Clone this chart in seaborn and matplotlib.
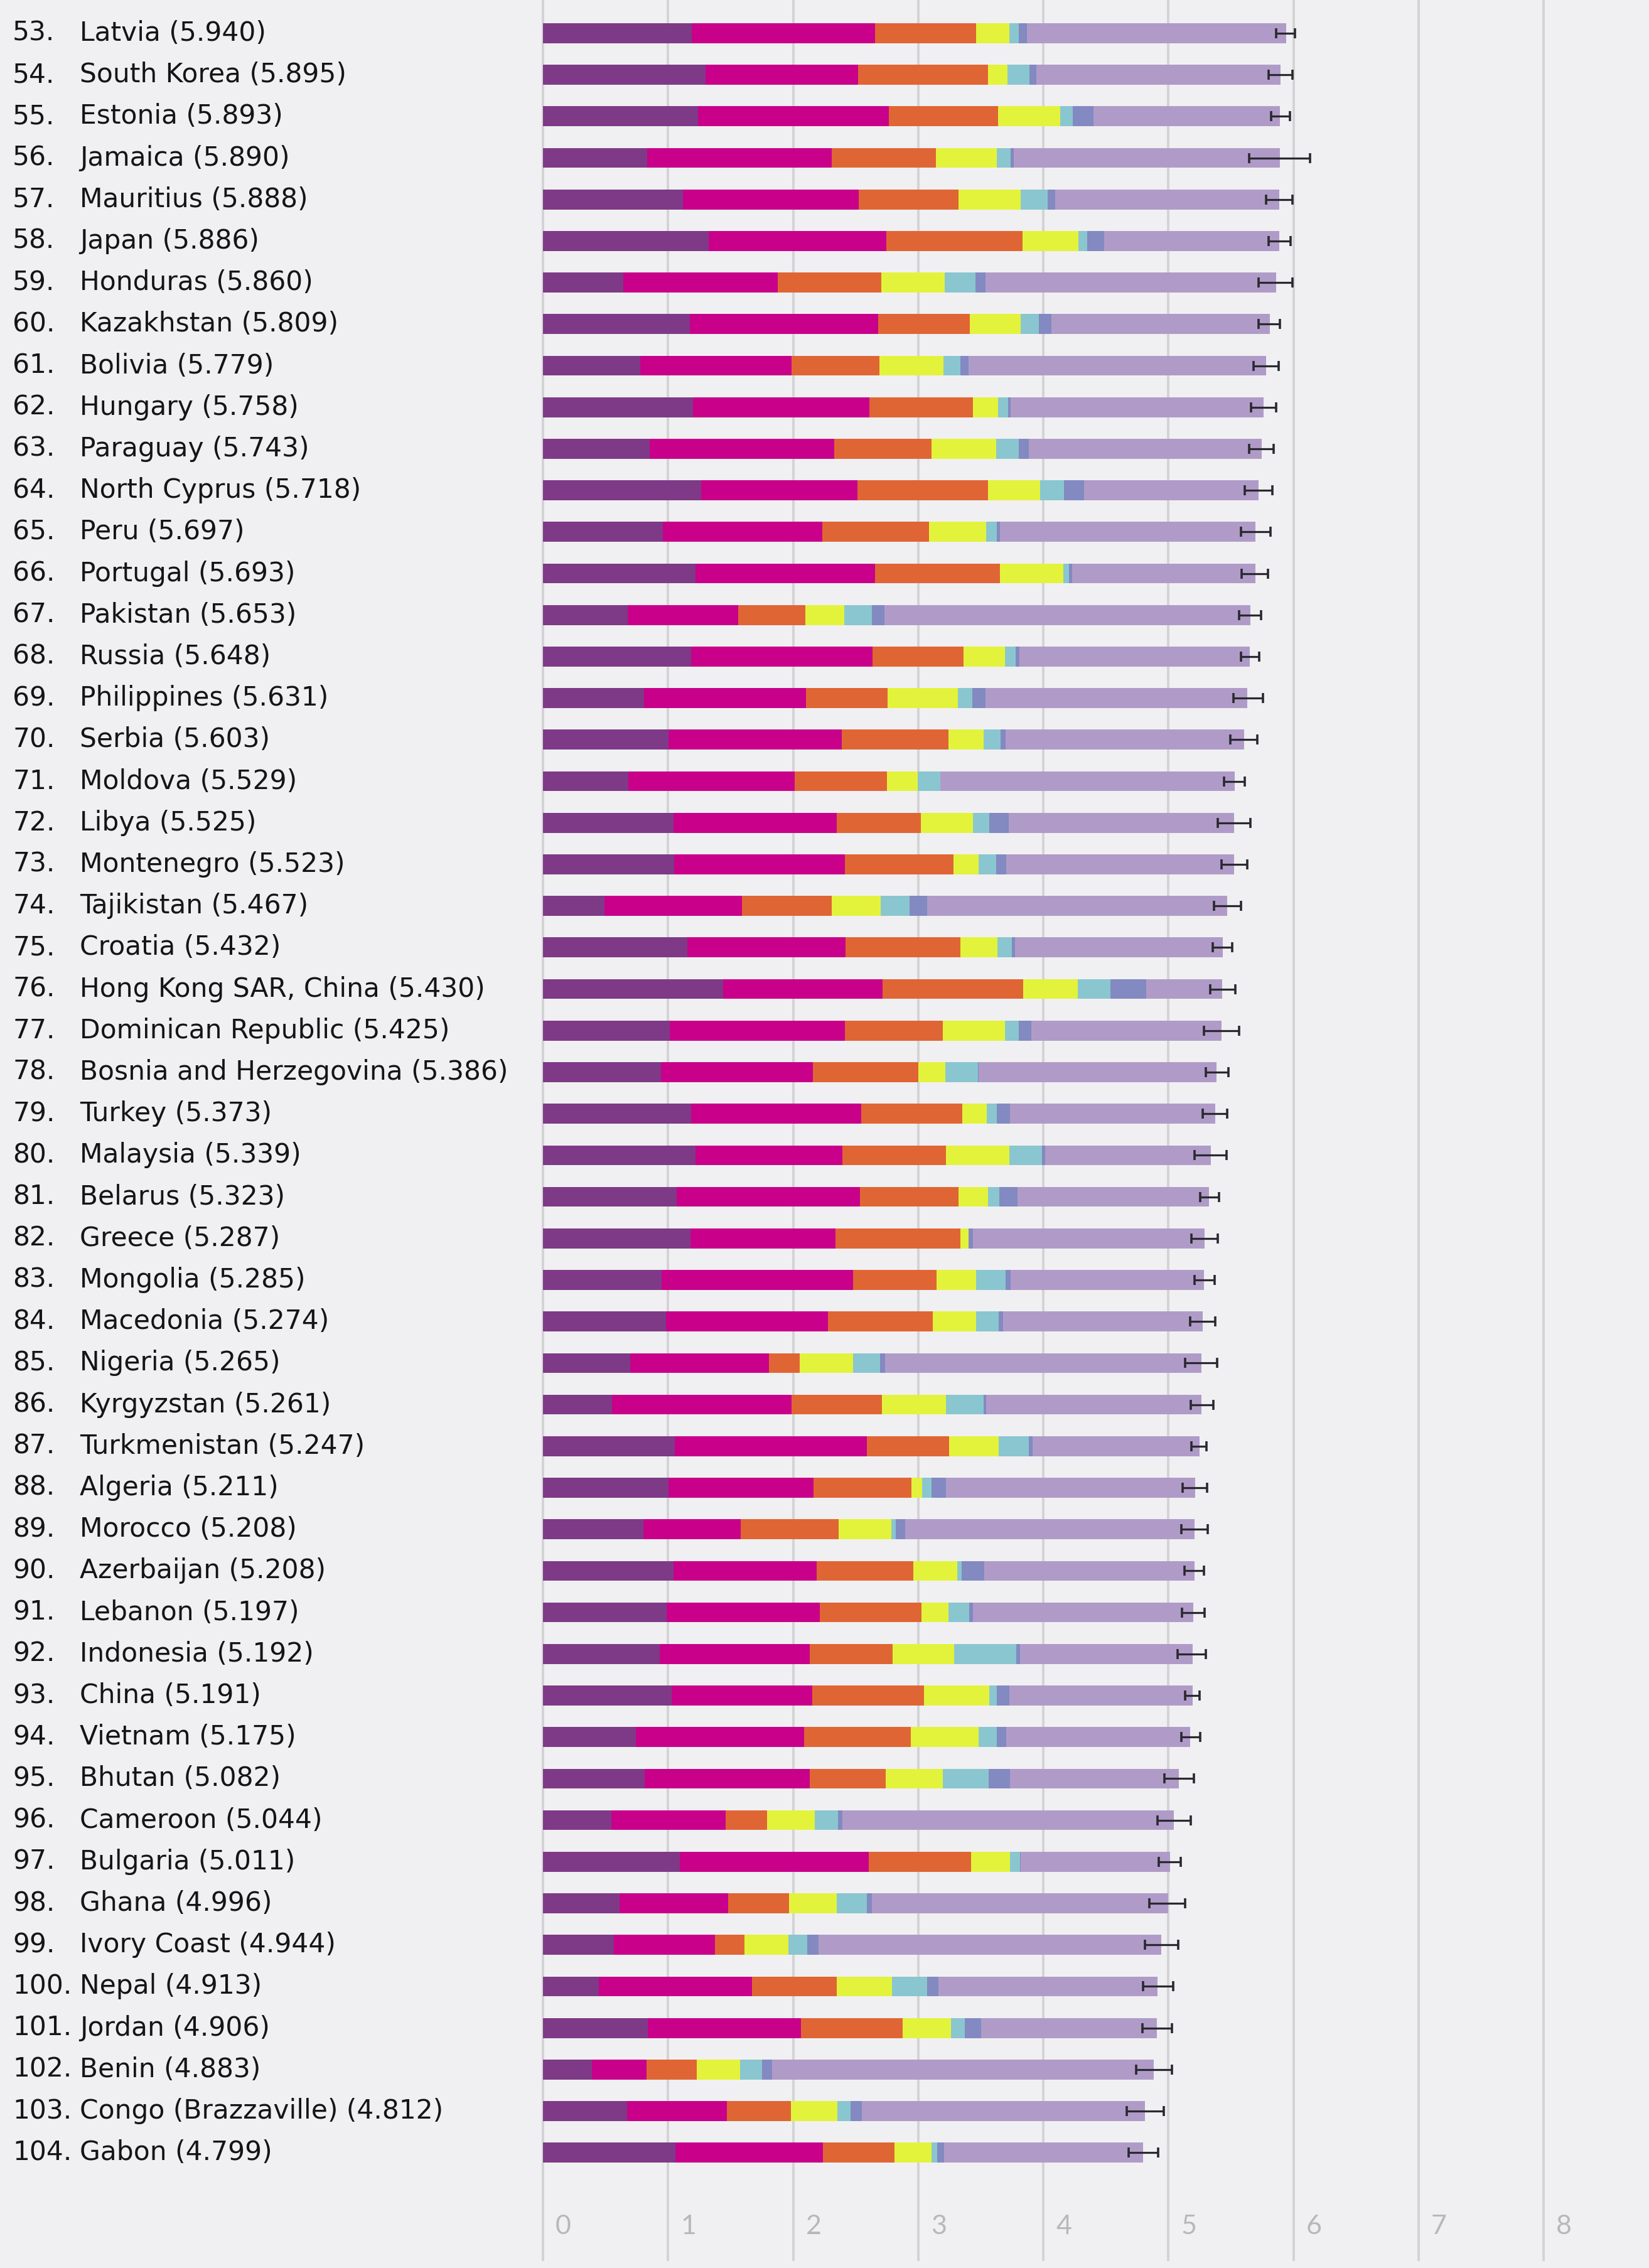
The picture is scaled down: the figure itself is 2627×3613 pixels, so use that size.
import numpy as np
import pandas as pd
import matplotlib
matplotlib.use("Agg")
import matplotlib.pyplot as plt
import matplotlib.transforms as mtransforms
import seaborn as sns

# ranks 53-104 of the happiness ranking
ranks = list(range(53, 105))
countries = [
    "Latvia", "South Korea", "Estonia", "Jamaica", "Mauritius", "Japan",
    "Honduras", "Kazakhstan", "Bolivia", "Hungary", "Paraguay", "North Cyprus",
    "Peru", "Portugal", "Pakistan", "Russia", "Philippines", "Serbia",
    "Moldova", "Libya", "Montenegro", "Tajikistan", "Croatia",
    "Hong Kong SAR, China", "Dominican Republic", "Bosnia and Herzegovina",
    "Turkey", "Malaysia", "Belarus", "Greece", "Mongolia", "Macedonia",
    "Nigeria", "Kyrgyzstan", "Turkmenistan", "Algeria", "Morocco",
    "Azerbaijan", "Lebanon", "Indonesia", "China", "Vietnam", "Bhutan",
    "Cameroon", "Bulgaria", "Ghana", "Ivory Coast", "Nepal", "Jordan",
    "Benin", "Congo (Brazzaville)", "Gabon",
]
scores = [
    5.940, 5.895, 5.893, 5.890, 5.888, 5.886, 5.860, 5.809, 5.779, 5.758,
    5.743, 5.718, 5.697, 5.693, 5.653, 5.648, 5.631, 5.603, 5.529, 5.525,
    5.523, 5.467, 5.432, 5.430, 5.425, 5.386, 5.373, 5.339, 5.323, 5.287,
    5.285, 5.274, 5.265, 5.261, 5.247, 5.211, 5.208, 5.208, 5.197, 5.192,
    5.191, 5.175, 5.082, 5.044, 5.011, 4.996, 4.944, 4.913, 4.906, 4.883,
    4.812, 4.799,
]
gdp = [
    1.187, 1.301, 1.237, 0.831, 1.120, 1.327, 0.642, 1.173, 0.776, 1.201,
    0.855, 1.263, 0.960, 1.221, 0.677, 1.183, 0.807, 1.004, 0.685, 1.044,
    1.051, 0.493, 1.155, 1.438, 1.015, 0.945, 1.183, 1.221, 1.067, 1.181,
    0.948, 0.983, 0.696, 0.551, 1.052, 1.002, 0.801, 1.043, 0.987, 0.931,
    1.029, 0.741, 0.813, 0.549, 1.092, 0.611, 0.569, 0.446, 0.837, 0.393,
    0.673, 1.057,
]
social = [
    1.465, 1.219, 1.528, 1.478, 1.402, 1.419, 1.236, 1.508, 1.209, 1.410,
    1.475, 1.252, 1.274, 1.431, 0.886, 1.452, 1.293, 1.383, 1.328, 1.303,
    1.361, 1.098, 1.266, 1.277, 1.401, 1.212, 1.360, 1.171, 1.465, 1.156,
    1.531, 1.294, 1.111, 1.438, 1.538, 1.160, 0.782, 1.147, 1.224, 1.203,
    1.125, 1.346, 1.321, 0.910, 1.513, 0.868, 0.808, 1.226, 1.225, 0.437,
    0.799, 1.183,
]
health = [
    0.812, 1.036, 0.874, 0.831, 0.798, 1.088, 0.828, 0.729, 0.706, 0.828,
    0.777, 1.042, 0.854, 0.999, 0.535, 0.726, 0.657, 0.854, 0.739, 0.673,
    0.871, 0.718, 0.914, 1.122, 0.779, 0.845, 0.808, 0.828, 0.789, 0.999,
    0.667, 0.838, 0.245, 0.723, 0.657, 0.785, 0.782, 0.769, 0.815, 0.660,
    0.893, 0.851, 0.604, 0.331, 0.815, 0.486, 0.232, 0.677, 0.815, 0.397,
    0.508, 0.571,
]
freedom = [
    0.264, 0.159, 0.495, 0.490, 0.498, 0.445, 0.507, 0.410, 0.511, 0.199,
    0.514, 0.417, 0.455, 0.508, 0.313, 0.334, 0.558, 0.282, 0.245, 0.416,
    0.197, 0.389, 0.296, 0.440, 0.497, 0.212, 0.195, 0.508, 0.235, 0.067,
    0.317, 0.345, 0.426, 0.508, 0.394, 0.086, 0.418, 0.351, 0.216, 0.491,
    0.521, 0.543, 0.457, 0.381, 0.311, 0.381, 0.352, 0.439, 0.383, 0.349,
    0.372, 0.295,
]
generosity = [
    0.075, 0.175, 0.103, 0.107, 0.215, 0.069, 0.246, 0.146, 0.137, 0.081,
    0.184, 0.191, 0.083, 0.047, 0.220, 0.082, 0.117, 0.137, 0.181, 0.133,
    0.142, 0.230, 0.119, 0.258, 0.113, 0.263, 0.083, 0.260, 0.094, 0.000,
    0.235, 0.185, 0.215, 0.300, 0.244, 0.073, 0.036, 0.035, 0.166, 0.498,
    0.058, 0.147, 0.370, 0.187, 0.081, 0.245, 0.154, 0.285, 0.110, 0.175,
    0.105, 0.043,
]
corruption = [
    0.064, 0.056, 0.161, 0.028, 0.060, 0.140, 0.078, 0.096, 0.064, 0.020,
    0.080, 0.162, 0.027, 0.025, 0.098, 0.031, 0.107, 0.039, 0.000, 0.152,
    0.080, 0.144, 0.022, 0.287, 0.101, 0.006, 0.106, 0.024, 0.142, 0.034,
    0.038, 0.034, 0.041, 0.023, 0.028, 0.114, 0.076, 0.182, 0.027, 0.028,
    0.100, 0.073, 0.167, 0.037, 0.004, 0.040, 0.090, 0.089, 0.130, 0.082,
    0.093, 0.055,
]
whisker_low = [
    5.863, 5.800, 5.820, 5.645, 5.778, 5.799, 5.720, 5.720, 5.678, 5.658,
    5.645, 5.612, 5.582, 5.583, 5.566, 5.578, 5.518, 5.493, 5.446, 5.396,
    5.426, 5.362, 5.354, 5.332, 5.285, 5.297, 5.273, 5.207, 5.252, 5.185,
    5.207, 5.173, 5.131, 5.177, 5.185, 5.113, 5.101, 5.130, 5.110, 5.074,
    5.131, 5.101, 4.967, 4.914, 4.920, 4.845, 4.813, 4.795, 4.790, 4.740,
    4.665, 4.681,
]
whisker_high = [
    6.013, 5.993, 5.971, 6.133, 5.993, 5.976, 5.993, 5.891, 5.883, 5.862,
    5.842, 5.829, 5.816, 5.796, 5.741, 5.724, 5.754, 5.712, 5.608, 5.655,
    5.632, 5.580, 5.508, 5.533, 5.565, 5.478, 5.469, 5.466, 5.402, 5.394,
    5.369, 5.372, 5.389, 5.357, 5.302, 5.307, 5.314, 5.282, 5.290, 5.297,
    5.247, 5.255, 5.202, 5.176, 5.098, 5.135, 5.080, 5.038, 5.029, 5.028,
    4.961, 4.916,
]

parts = ["gdp", "social", "health", "freedom", "generosity", "corruption"]
df = pd.DataFrame({
    "country": countries, "score": scores,
    "gdp": gdp, "social": social, "health": health, "freedom": freedom,
    "generosity": generosity, "corruption": corruption,
})
df["dystopia"] = df["score"] - df[parts].sum(axis=1)
segments = parts + ["dystopia"]
seg_colors = ["#7e3a87", "#c8008a", "#e06535", "#e3f33b",
              "#8ac6cf", "#8389c1", "#b09bc8"]

BG = "#f0f0f2"
sns.set_theme(style="white", rc={"axes.facecolor": BG, "figure.facecolor": BG})
plt.rcParams["font.family"] = ["DejaVu Sans"]

fig = plt.figure(figsize=(26.27, 36.13), dpi=100)
ax = fig.add_axes([855 / 2627, 11 / 3613, 1 - 855 / 2627, 1 - 11 / 3613])

# stacked bars: draw cumulative totals from the longest down
for k in range(len(segments) - 1, -1, -1):
    cum = df[segments[:k + 1]].sum(axis=1)
    sns.barplot(x=cum, y=df["country"], orient="h", color=seg_colors[k],
                saturation=1, width=0.48, errorbar=None, linewidth=0, ax=ax)

pos = np.arange(len(df))
ax.errorbar(df["score"], pos,
            xerr=[df["score"] - np.array(whisker_low), np.array(whisker_high) - df["score"]],
            fmt="none", ecolor="#2a2930", elinewidth=2.3, capsize=5.8,
            capthick=2.6, zorder=5)

ax.set_xlim(-0.05, (2627 - 865) / 199.3)
ax.set_ylim(53.61, -0.80)
ax.set_xticks(range(9))
ax.grid(axis="x", color="#d3d3d6", linewidth=2.8)
ax.grid(axis="y", visible=False)
ax.set_axisbelow(True)
ax.tick_params(length=0, labelbottom=False, labelleft=False)
ax.set_xlabel("")
ax.set_ylabel("")
for s in ax.spines.values():
    s.set_visible(False)

for v in range(9):
    ax.text(v + 0.1, 52.78, str(v), ha="left", va="center",
            fontsize=31, color="#b8b8bb", family=["Lato", "DejaVu Sans"])

trans = mtransforms.blended_transform_factory(fig.transFigure, ax.transData)
for i, (r, c, s) in enumerate(zip(ranks, countries, scores)):
    ax.text(20 / 2627, i, f"{r}.", transform=trans, ha="left", va="center",
            fontsize=30.5, color="#151517", clip_on=False)
    ax.text(127 / 2627, i, f"{c} ({s:.3f})", transform=trans, ha="left",
            va="center", fontsize=30.5, color="#151517", clip_on=False)

fig.savefig("out.png", dpi=100, facecolor=BG)
